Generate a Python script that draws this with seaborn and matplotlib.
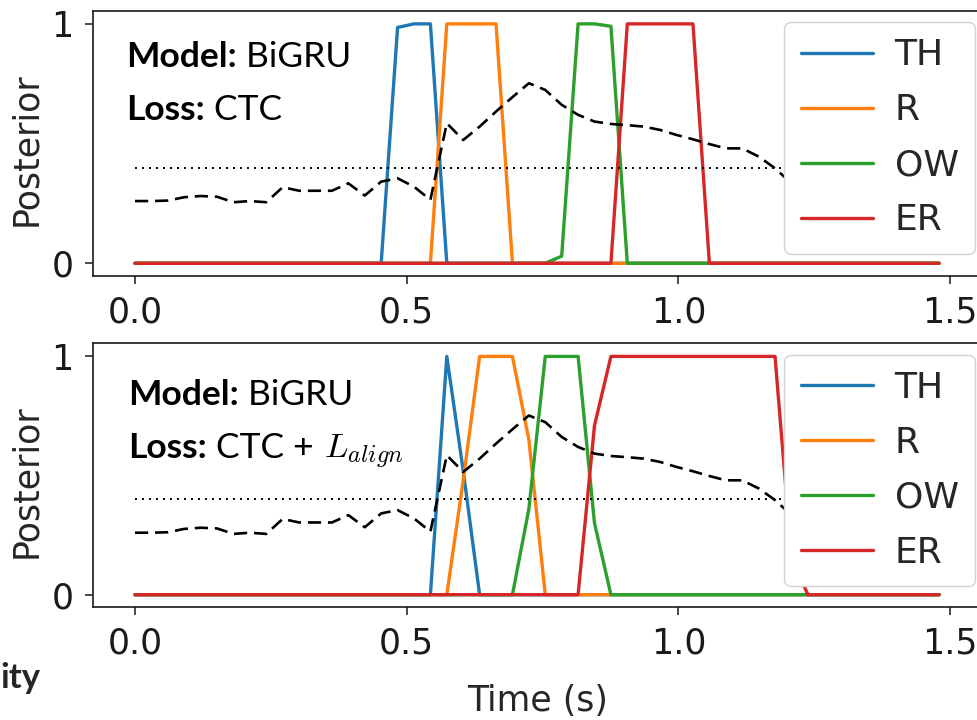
import numpy as np
import pandas as pd
import matplotlib
matplotlib.use("Agg")
import matplotlib.pyplot as plt
import seaborn as sns

# ---- data -------------------------------------------------------------
phones = ["TH", "R", "OW", "ER"]
phone_colors = ["#1f77b4", "#ff7f0e", "#2ca02c", "#d62728"]

n_frames = 50
frame_step = 0.0302                      # seconds per frame
time = np.arange(n_frames) * frame_step

# phone posteriors, model trained with CTC only
th_ctc = [0.0] * 16 + [0.985, 1.0, 1.0] + [0.0] * 31
r_ctc = [0.0] * 19 + [1.0, 1.0, 1.0, 1.0] + [0.0] * 27
ow_ctc = [0.0] * 26 + [0.03, 1.0, 1.0, 0.99] + [0.0] * 20
er_ctc = [0.0] * 30 + [1.0] * 5 + [0.0] * 15

# phone posteriors, model trained with CTC + alignment loss
th_align = [0.0] * 19 + [1.0, 0.52] + [0.0] * 29
r_align = [0.0] * 20 + [0.48, 1.0, 1.0, 1.0, 0.65] + [0.0] * 25
ow_align = [0.0] * 24 + [0.36, 1.0, 1.0, 1.0, 0.30] + [0.0] * 21
er_align = [0.0] * 28 + [0.71] + [1.0] * 11 + [0.16] + [0.0] * 9

# normalised signal envelope (dashed) and decision threshold (dotted)
envelope = [0.260, 0.260, 0.262, 0.276, 0.281, 0.278, 0.255, 0.260, 0.255,
            0.318, 0.303, 0.303, 0.303, 0.334, 0.283, 0.341, 0.355, 0.320,
            0.265, 0.585, 0.515, 0.571, 0.634, 0.694, 0.752, 0.724, 0.662,
            0.620, 0.592, 0.582, 0.577, 0.571, 0.557, 0.536, 0.518, 0.498,
            0.480, 0.480, 0.446, 0.397, 0.334]
threshold = 0.4

panels = [
    ("CTC", [th_ctc, r_ctc, ow_ctc, er_ctc]),
    ("CTC_ALIGN", [th_align, r_align, ow_align, er_align]),
]

# ---- style ------------------------------------------------------------
sns.set_theme(style="ticks")
plt.rcParams["font.family"] = ["DejaVu Sans"]
plt.rcParams["font.sans-serif"] = ["DejaVu Sans"]
plt.rcParams["axes.edgecolor"] = "0.1"
plt.rcParams["axes.linewidth"] = 1.2

W, H = 978, 720
fig = plt.figure(figsize=(W / 100, H / 100), dpi=100)

# axes boxes in pixels: left, top, right, bottom
boxes = [(93, 10.7, 987, 276.0), (93, 343.3, 987, 607.3)]

FS = 25
note_font = dict(family="Lato", fontsize=25.5, color="black")


def text_runs(ax, x, y, runs):
    """Write consecutive pieces of text on one baseline."""
    renderer = ax.figure.canvas.get_renderer()
    inv = ax.transAxes.inverted()
    for s, props in runs:
        t = ax.text(x, y, s, transform=ax.transAxes, va="baseline",
                    ha="left", **props)
        x1 = t.get_window_extent(renderer).x1
        x = inv.transform((x1, 0))[0]


axes = []
for (name, series), (l, t, r, b) in zip(panels, boxes):
    ax = fig.add_axes([l / W, 1 - b / H, (r - l) / W, (b - t) / H])
    axes.append(ax)

    df = pd.DataFrame({
        "time": np.tile(time, len(phones)),
        "posterior": np.concatenate(series),
        "phone": np.repeat(phones, n_frames),
    })
    sns.lineplot(data=df, x="time", y="posterior", hue="phone",
                 hue_order=phones, palette=phone_colors, linewidth=2.4,
                 ax=ax, legend=False)
    sns.lineplot(x=time[:len(envelope)], y=envelope, color="black",
                 linewidth=1.9, linestyle=(0, (5, 2.6)), ax=ax)
    sns.lineplot(x=time, y=[threshold] * n_frames, color="black",
                 linewidth=1.4, linestyle=(0, (1, 2.6)), ax=ax)

    ax.set_xlim(-0.0773, 1.5679)
    ax.set_ylim(-0.053, 1.055)
    ax.set_xticks([0.0, 0.5, 1.0, 1.5])
    ax.set_xticklabels(["0.0", "0.5", "1.0", "1.5"])
    ax.set_yticks([0, 1])
    ax.set_yticklabels(["0", "1"])
    ax.tick_params(labelsize=FS, length=5.8, width=1.1, pad=8,
                   colors="0.1")
    for lab in ax.get_xticklabels() + ax.get_yticklabels():
        lab.set_fontfamily("DejaVu Sans")
    ax.set_xlabel("")
    ax.set_ylabel("Posterior", fontsize=FS, fontfamily="DejaVu Sans")
    ax.yaxis.set_label_coords(-0.056, 0.478)

    leg_y = (b - (t + 11.5)) / (b - t)
    ax.legend(ax.lines[:4], phones, loc="upper right",
              bbox_to_anchor=((975 - l) / (r - l), leg_y),
              borderaxespad=0, frameon=True, framealpha=1,
              prop=dict(family="DejaVu Sans", size=26),
              edgecolor="0.82", fancybox=True, handlelength=2.0,
              handletextpad=0.6, labelspacing=0.58, borderpad=0.45)

# annotation text in each panel
ax_top, ax_bot = axes
bold = dict(note_font, fontweight="bold")
text_runs(ax_top, 0.0369, 0.788, [("Model:", bold), (" BiGRU", note_font)])
text_runs(ax_top, 0.0369, 0.588, [("Loss:", bold), (" CTC", note_font)])
text_runs(ax_bot, 0.039, 0.766, [("Model:", bold), (" BiGRU", note_font)])
text_runs(ax_bot, 0.039, 0.564, [("Loss:", bold), (" CTC +", note_font),
                                 (r" $L_{align}$",
                                  dict(fontsize=25, math_fontfamily="cm",
                                       color="black"))])

ax_bot.set_xlabel("Time (s)", fontsize=FS, fontfamily="DejaVu Sans")
ax_bot.xaxis.set_label_coords(0.497, -0.29)

fig.text(40 / W, 1 - 688 / H, "ity", ha="right", va="baseline",
         family="Lato", fontsize=25, fontweight="bold")

fig.savefig("out.png", dpi=100)
